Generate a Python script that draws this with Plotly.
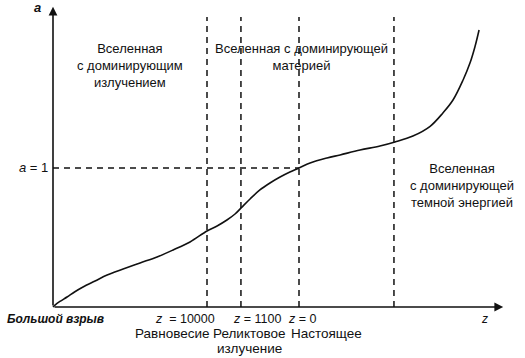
import plotly.graph_objects as go

# Scale factor a versus (arbitrary) time; t = 1 and a = 1 at the present epoch
t_curve = [0.0, 0.008, 0.028, 0.057, 0.089, 0.122, 0.171, 0.220, 0.285, 0.354, 0.423,
           0.488, 0.557, 0.626, 0.667, 0.707, 0.740, 0.768, 0.801, 0.841, 0.882, 0.923,
           0.963, 1.0, 1.045, 1.114, 1.167, 1.248, 1.329, 1.390, 1.463, 1.533, 1.585,
           1.626, 1.667, 1.695, 1.715, 1.732]
a_curve = [0.0, 0.014, 0.040, 0.072, 0.110, 0.144, 0.187, 0.230, 0.273, 0.317, 0.360,
           0.410, 0.468, 0.547, 0.583, 0.626, 0.669, 0.719, 0.777, 0.842, 0.892, 0.935,
           0.971, 1.0, 1.036, 1.072, 1.094, 1.129, 1.158, 1.187, 1.230, 1.300, 1.396,
           1.489, 1.633, 1.755, 1.871, 1.993]

# epoch boundaries (dashed verticals)
t_epochs = [0.626, 0.764, 1.0, 1.386]
z_labels = ["<i>z</i>  = 10000", "<i>z</i> = 1100", "<i>z</i> = 0"]
event_labels = ["Равновесие", "Реликтовое", "Настоящее"]
event_label_2 = "излучение"
era_labels = ["Вселенная<br>с доминирующим<br>излучением",
              "Вселенная с доминирующей<br>материей",
              "Вселенная<br>с доминирующей<br>темной энергией"]
a_present = 1.0

W, H = 525, 358
FONT = "Liberation Sans, Arial, sans-serif"
INK = "#111111"

fig = go.Figure()
fig.add_trace(go.Scatter(x=t_curve, y=a_curve, mode="lines",
                         line=dict(color=INK, width=1.6, shape="spline", smoothing=1.0),
                         hoverinfo="skip", showlegend=False))

dash = "6px,5px"
top_a = 2.086
for t in t_epochs:
    fig.add_shape(type="line", x0=t, x1=t, y0=0, y1=top_a, xref="x", yref="y",
                  line=dict(color=INK, width=1.5, dash=dash))
fig.add_shape(type="line", x0=0, x1=t_epochs[2], y0=a_present, y1=a_present,
              xref="x", yref="y", line=dict(color=INK, width=1.5, dash=dash))

# axes with arrows
fig.add_annotation(x=0, y=2.16, ax=0, ay=0, axref="x", ayref="y", xref="x", yref="y",
                   text="", showarrow=True, arrowhead=2, arrowsize=1.1, arrowwidth=1.6,
                   arrowcolor=INK)
fig.add_annotation(x=1.83, y=0, ax=0, ay=0, axref="x", ayref="y", xref="x", yref="y",
                   text="", showarrow=True, arrowhead=2, arrowsize=1.1, arrowwidth=1.6,
                   arrowcolor=INK)

def px(x):
    return x / W

def py(y):
    return 1 - y / H

def label(x, y, text, size=13, xanchor="center", align="center", yanchor="middle"):
    fig.add_annotation(x=px(x), y=py(y), xref="paper", yref="paper", text=text,
                       showarrow=False, xanchor=xanchor, yanchor=yanchor, align=align,
                       borderpad=0,
                       font=dict(family=FONT, size=size, color=INK))

label(37, 8, "<b><i>a</i></b>")
label(49, 168, "<i>a</i> = 1", xanchor="right")
label(130, 65, era_labels[0])
label(301, 57, era_labels[1])
label(462, 186, era_labels[2])
label(55, 319, "<b><i>Большой взрыв</i></b>", size=12)
z_x = [185, 257, 302]
for x, s in zip(z_x, z_labels):
    label(x, 319, s, size=12.5)
label(484, 319, "<i>z</i>", size=12)
ev_x = [172, 249, 326]
for x, s in zip(ev_x, event_labels):
    label(x, 333, s, size=13.5)
label(ev_x[1], 348, event_label_2, size=13.5)

x0, x1 = -53 / 246, (W - 53) / 246
y1, y0 = 307 / 139, (307 - H) / 139
fig.update_layout(width=W, height=H, margin=dict(l=0, r=0, t=0, b=0),
                  paper_bgcolor="white", plot_bgcolor="white",
                  xaxis=dict(range=[x0, x1], visible=False, fixedrange=True),
                  yaxis=dict(range=[y0, y1], visible=False, fixedrange=True),
                  showlegend=False)
fig.write_html("out.html", config={"displayModeBar": False},
               post_script="document.body.style.margin='0';document.body.style.overflow='hidden';")
